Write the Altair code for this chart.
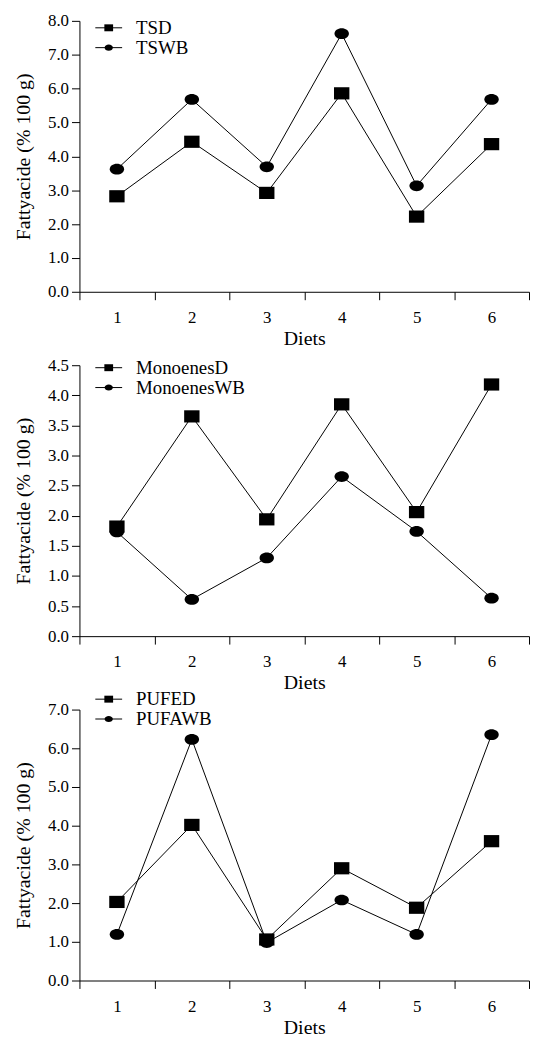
import altair as alt
import pandas as pd

# ---- data ----
diets = [1, 2, 3, 4, 5, 6]

p1_names = ["TSD", "TSWB"]
tsd = [2.82, 4.43, 2.92, 5.86, 2.22, 4.36]
tswb = [3.62, 5.68, 3.69, 7.62, 3.13, 5.68]
p1_ticks = [0, 1, 2, 3, 4, 5, 6, 7, 8]

p2_names = ["MonoenesD", "MonoenesWB"]
mono_d = [1.82, 3.65, 1.94, 3.85, 2.06, 4.18]
mono_wb = [1.73, 0.61, 1.30, 2.65, 1.74, 0.63]
p2_ticks = [0, 0.5, 1.0, 1.5, 2.0, 2.5, 3.0, 3.5, 4.0, 4.5]

p3_names = ["PUFED", "PUFAWB"]
pufe_d = [2.03, 4.02, 1.06, 2.90, 1.88, 3.60]
pufa_wb = [1.19, 6.23, 0.98, 2.08, 1.19, 6.35]
p3_ticks = [0, 1, 2, 3, 4, 5, 6, 7]

x_title = "Diets"
y_title = "Fattyacide (% 100 g)"

# ---- style ----
AXIS_FONT = "Times New Roman"
LEGEND_FONT = "Liberation Serif"
W = 453
H = 273
SQUARE = "M-1.26,-1H1.26V1H-1.26Z"
ELLIPSE = "M-1.18,0A1.18,0.88,0,1,0,1.18,0A1.18,0.88,0,1,0,-1.18,0Z"
TAIL = "M-3.86,0H3.86"


def panel(names, a, b, ticks, legend_y):
    df = pd.DataFrame({
        "Diet": diets + diets,
        "value": a + b,
        "series": [names[0]] * len(a) + [names[1]] * len(b),
    })
    df["series_l"] = df["series"]
    ymax = ticks[-1]

    x = alt.X(
        "Diet:O",
        bandPosition=0.5,
        scale=alt.Scale(type="band", paddingInner=0, paddingOuter=0),
        axis=alt.Axis(
            title=x_title, labelAngle=0, tickBand="extent", tickSize=8,
            labelPadding=10, titlePadding=3, labelFontSize=17, titleFontSize=20,
            labelFont=AXIS_FONT, titleFont=AXIS_FONT, labelColor="black",
            titleColor="black", titleFontWeight="normal",
            domainColor="black", tickColor="black", grid=False,
        ),
    )
    y = alt.Y(
        "value:Q",
        scale=alt.Scale(domain=[0, ymax], nice=False, zero=True),
        axis=alt.Axis(
            title=y_title, values=ticks, format=".1f", tickSize=8,
            labelPadding=3, titlePadding=14, labelFontSize=17, titleFontSize=20,
            labelFont=AXIS_FONT, titleFont=AXIS_FONT, labelColor="black",
            titleColor="black", titleFontWeight="normal",
            domainColor="black", tickColor="black", grid=False,
        ),
    )

    lines = alt.Chart(df).mark_line(strokeWidth=1, color="black").encode(
        x=x, y=y,
        color=alt.Color(
            "series_l:N",
            scale=alt.Scale(range=["black", "black"]),
            legend=alt.Legend(
                orient="none", legendX=20, legendY=legend_y, title=None,
                symbolType=TAIL, symbolSize=49, symbolStrokeWidth=1,
                symbolStrokeColor="black", labelExpr="''", padding=0,
                rowPadding=0, labelFontSize=19, labelOffset=18,
            ),
        ),
    )
    points = alt.Chart(df).mark_point(
        filled=True, color="black", opacity=1, size=151, strokeWidth=0
    ).encode(
        x=x, y=y,
        shape=alt.Shape(
            "series:N",
            scale=alt.Scale(domain=names, range=[SQUARE, ELLIPSE]),
            legend=alt.Legend(
                orient="none", legendX=20, legendY=legend_y, title=None,
                symbolSize=49, symbolFillColor="black", symbolStrokeWidth=0,
                padding=0, rowPadding=0, labelFontSize=19, labelOffset=18,
                labelColor="black", labelFont=LEGEND_FONT,
            ),
        ),
    )
    return alt.layer(lines, points).properties(width=W, height=H)


chart = alt.vconcat(
    panel(p1_names, tsd, tswb, p1_ticks, -2.5),
    panel(p2_names, mono_d, mono_wb, p2_ticks, -7),
    panel(p3_names, pufe_d, pufa_wb, p3_ticks, -20),
    spacing=74,
    bounds="flush",
).resolve_scale(
    color="independent", shape="independent", y="independent", x="independent"
).resolve_legend(
    color="independent", shape="independent"
).properties(
    padding={"left": 5, "top": 0, "right": 0, "bottom": 0}
).configure_view(
    stroke=None
).configure_legend(
    labelFont=LEGEND_FONT, labelColor="black",
)

chart.save("out.html", embed_options={"renderer": "svg", "actions": False})
